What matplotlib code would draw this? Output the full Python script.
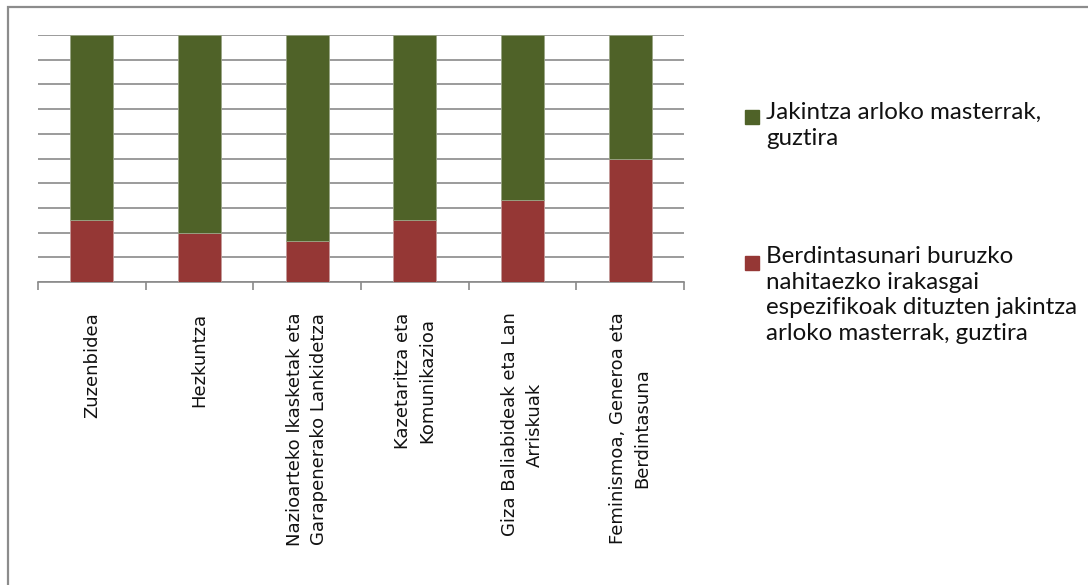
import matplotlib.pyplot as plt
from matplotlib.patches import Rectangle

# categories and shares (100% stacked)
categories = ['Zuzenbidea', 'Hezkuntza',
              'Nazioarteko Ikasketak eta\nGarapenerako Lankidetza',
              'Kazetaritza eta\nKomunikazioa',
              'Giza Baliabideak eta Lan\nArriskuak',
              'Feminismoa, Generoa eta\nBerdintasuna']
berdintasun = [25, 20, 16.7, 25, 33.3, 50]
jakintza = [75, 80, 83.3, 75, 66.7, 50]

labels = ['Jakintza arloko masterrak,\nguztira',
          'Berdintasunari buruzko\nnahitaezko irakasgai\nespezifikoak dituzten jakintza\narloko masterrak, guztira']

green = '#4F6228'
red = '#953735'

fig = plt.figure(figsize=(10.88, 5.85), dpi=100)
ax = fig.add_axes([38 / 1088, 1 - 282 / 585, (684 - 38) / 1088, (282 - 35) / 585])

x = list(range(len(categories)))
ax.bar(x, berdintasun, width=0.4, color=red, edgecolor='#c49a99', linewidth=0.6, zorder=3)
ax.bar(x, jakintza, width=0.4, bottom=berdintasun, color=green, edgecolor='#9aa585',
       linewidth=0.6, zorder=3)

ax.set_xlim(-0.5, len(categories) - 0.5)
ax.set_ylim(0, 100)
ax.set_yticks(range(0, 101, 10))
ax.yaxis.grid(True, color='#8a8a8a', linewidth=1.2, zorder=0)
ax.tick_params(axis='y', length=0, labelleft=False)

ax.set_xticks(x)
ax.set_xticklabels(categories, rotation=90, fontsize=13, family='DejaVu Sans',
                   multialignment='center', va='top', ha='center', linespacing=1.45,
                   color='#111111')
ax.set_xticks([i - 0.5 for i in range(len(categories) + 1)], minor=True)
ax.tick_params(axis='x', which='major', length=0, pad=22)
ax.tick_params(axis='x', which='minor', length=6, width=1.2, color='#8a8a8a', direction='out')

for s in ['top', 'right', 'left']:
    ax.spines[s].set_visible(False)
ax.spines['bottom'].set_color('#8a8a8a')
ax.spines['bottom'].set_linewidth(1.2)

# legend
entries = [(green, labels[0], 117, 125), (red, labels[1], 263, 269)]
for col, lab, yc, base in entries:
    fig.add_artist(Rectangle((745 / 1088, 1 - (yc + 7) / 585), 14 / 1088, 14 / 585,
                             transform=fig.transFigure, color=col))
    fig.text(766 / 1088, 1 - (base - 23) / 585, lab, fontsize=17.4, family='Lato',
             va='top', ha='left', linespacing=1.27, color='#111111')

# outer chart border
fig.add_artist(Rectangle((8 / 1088, -0.05), 1.1, 1 - 7 / 585 + 0.05, transform=fig.transFigure,
                         fill=False, edgecolor='#8c8c8c', linewidth=1.6))

fig.savefig('out.png', dpi=100)
